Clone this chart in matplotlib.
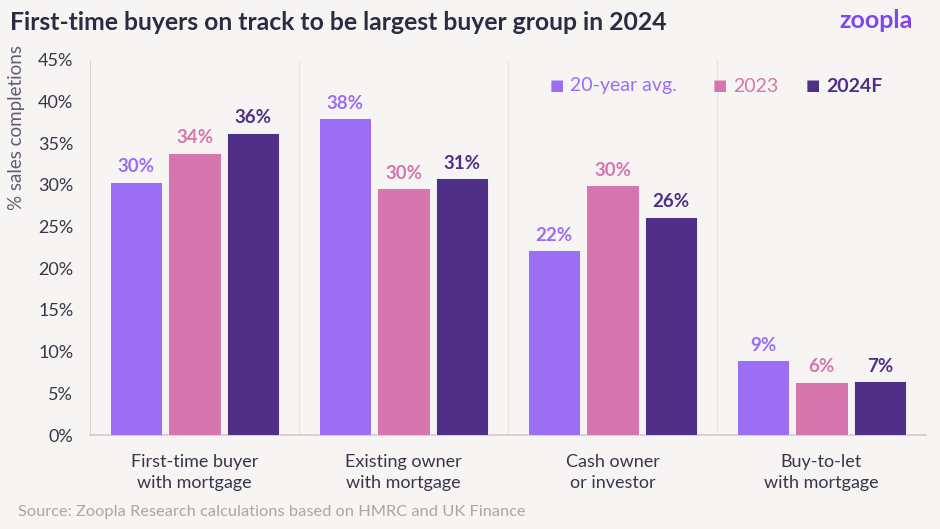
import matplotlib
matplotlib.use("Agg")
from matplotlib import pyplot as plt
import numpy as np

# data
categories = ["First-time buyer\nwith mortgage", "Existing owner\nwith mortgage",
              "Cash owner\nor investor", "Buy-to-let\nwith mortgage"]
series_names = ["20-year avg.", "2023", "2024F"]
avg_20yr = [30.4, 38.0, 22.2, 9.0]
y2023 = [33.9, 29.6, 30.0, 6.4]
y2024f = [36.3, 30.8, 26.2, 6.5]
labels_avg = ["30%", "38%", "22%", "9%"]
labels_2023 = ["34%", "30%", "30%", "6%"]
labels_2024 = ["36%", "31%", "26%", "7%"]
y_ticks = [0, 5, 10, 15, 20, 25, 30, 35, 40, 45]

colors = ["#9B6EF3", "#D775AE", "#4F3086"]
bg = "#F6F5F3"
text_dark = "#3A3548"

plt.rcParams["font.family"] = ["Lato", "DejaVu Sans"]

fig = plt.figure(figsize=(9.4, 5.29), dpi=100, facecolor=bg)
ax = fig.add_axes([90 / 940, 1 - 435 / 529, 836 / 940, 375 / 529])
ax.set_facecolor(bg)

x = np.arange(len(categories))
width = 0.251
step = 0.28
all_series = [avg_20yr, y2023, y2024f]
all_labels = [labels_avg, labels_2023, labels_2024]
for i, (vals, labs) in enumerate(zip(all_series, all_labels)):
    pos = x + (i - 1) * step
    bars = ax.bar(pos, vals, width, color=colors[i], edgecolor="white",
                  linewidth=0.6, zorder=3, label=series_names[i])
    for b, lab in zip(bars, labs):
        ax.text(b.get_x() + b.get_width() / 2, b.get_height() + 0.75, lab,
                ha="center", va="bottom", fontsize=13.5, fontweight="bold",
                color=colors[i], zorder=4)

# group separators
for sep in [0.5, 1.5, 2.5, 3.5]:
    ax.axvline(sep, color="#E9E7E4", linewidth=1, zorder=1)

ax.set_xlim(-0.5, 3.5)
ax.set_ylim(0, 45)
ax.set_yticks(y_ticks)
ax.set_yticklabels([f"{t}%" for t in y_ticks])
ax.set_xticks(x)
ax.set_xticklabels(categories, linespacing=1.35)
ax.tick_params(axis="both", length=0, labelsize=13, colors=text_dark)
ax.tick_params(axis="y", pad=12)
ax.tick_params(axis="x", pad=14)
for s in ["top", "right"]:
    ax.spines[s].set_visible(False)
ax.spines["left"].set_color("#D9D7D4")
ax.spines["bottom"].set_color("#CFCDCA")
ax.spines["bottom"].set_linewidth(1.2)

# legend as text
leg_x = [557, 720, 813]
for lx, name, c in zip(leg_x, series_names, colors):
    fig.text(lx / 940, 1 - 86 / 529, "\u25A0", color=c, fontsize=11,
             ha="center", va="center", family="DejaVu Sans")
    fig.text((lx + 13) / 940, 1 - 86 / 529, name, color=c, fontsize=14,
             ha="left", va="center", fontweight="bold" if c == colors[2] else "normal")

fig.text(10 / 940, 1 - 22 / 529, "First-time buyers on track to be largest buyer group in 2024",
         fontsize=17.8, fontweight="bold", color="#2E2A42", ha="left", va="center")
fig.text(913 / 940, 1 - 21 / 529, "zoopla", fontsize=18, fontweight="bold",
         color="#8046F1", ha="right", va="center")
fig.text(17 / 940, 1 - 127 / 529, "% sales completions", rotation=90, fontsize=13.5,
         color="#625D70", ha="center", va="center")
fig.text(18 / 940, 1 - 512 / 529, "Source: Zoopla Research calculations based on HMRC and UK Finance",
         fontsize=11.8, color="#A9A6A3", ha="left", va="center")

fig.savefig("out.png", dpi=100, facecolor=bg)
